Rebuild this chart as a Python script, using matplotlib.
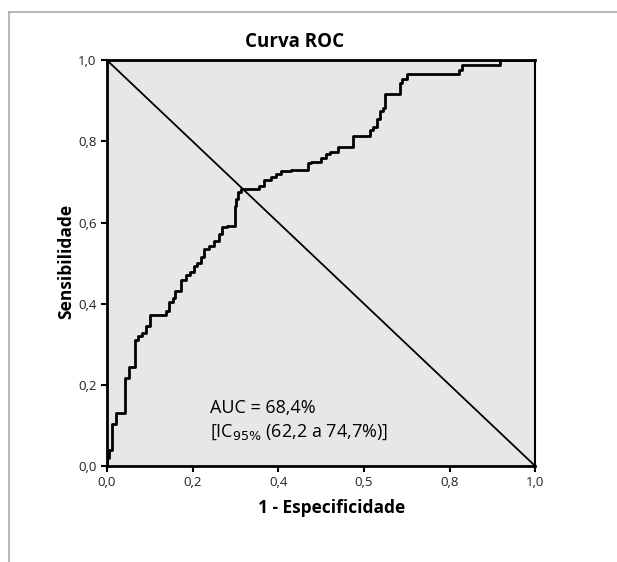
import matplotlib
matplotlib.use("Agg")
import matplotlib.pyplot as plt
from matplotlib.lines import Line2D

plt.rcParams['font.family'] = ['Open Sans', 'DejaVu Sans']

# pontos da curva ROC (1 - especificidade, sensibilidade)
fpr = [0, 0, 0.005, 0.005, 0.011, 0.011, 0.021, 0.021, 0.042, 0.042,
       0.052, 0.052, 0.065, 0.065, 0.073, 0.073, 0.082, 0.082, 0.091, 0.091,
       0.100, 0.100, 0.137, 0.137, 0.145, 0.145, 0.153, 0.153, 0.160, 0.160,
       0.172, 0.172, 0.185, 0.185, 0.195, 0.195, 0.203, 0.203, 0.211, 0.211,
       0.219, 0.219, 0.226, 0.226, 0.238, 0.238, 0.250, 0.250, 0.261, 0.261,
       0.269, 0.269, 0.281, 0.281, 0.298, 0.298, 0.302, 0.302, 0.306, 0.306,
       0.312, 0.312, 0.355, 0.355, 0.367, 0.367, 0.383, 0.383, 0.395, 0.395,
       0.406, 0.406, 0.430, 0.430, 0.469, 0.469, 0.477, 0.477, 0.500, 0.500,
       0.512, 0.512, 0.520, 0.520, 0.540, 0.540, 0.575, 0.575, 0.614, 0.614,
       0.622, 0.622, 0.630, 0.630, 0.638, 0.638, 0.644, 0.644, 0.650, 0.650,
       0.685, 0.685, 0.690, 0.690, 0.700, 0.700, 0.821, 0.821, 0.830, 0.830,
       0.918, 0.918, 1.0]
tpr = [0, 0.020, 0.020, 0.040, 0.040, 0.104, 0.104, 0.130, 0.130, 0.218,
       0.218, 0.245, 0.245, 0.310, 0.310, 0.321, 0.321, 0.329, 0.329, 0.344,
       0.344, 0.371, 0.371, 0.382, 0.382, 0.405, 0.405, 0.413, 0.413, 0.432,
       0.432, 0.459, 0.459, 0.470, 0.470, 0.478, 0.478, 0.493, 0.493, 0.500,
       0.500, 0.516, 0.516, 0.535, 0.535, 0.543, 0.543, 0.554, 0.554, 0.573,
       0.573, 0.589, 0.589, 0.592, 0.592, 0.642, 0.642, 0.657, 0.657, 0.676,
       0.676, 0.682, 0.682, 0.690, 0.690, 0.704, 0.704, 0.712, 0.712, 0.720,
       0.720, 0.727, 0.727, 0.730, 0.730, 0.747, 0.747, 0.750, 0.750, 0.760,
       0.760, 0.770, 0.770, 0.774, 0.774, 0.785, 0.785, 0.813, 0.813, 0.828,
       0.828, 0.836, 0.836, 0.855, 0.855, 0.874, 0.874, 0.882, 0.882, 0.916,
       0.916, 0.943, 0.943, 0.954, 0.954, 0.966, 0.966, 0.977, 0.977, 0.989,
       0.989, 1.0, 1.0]

ref_x = [0, 1]
ref_y = [1, 0]

tick_pos = [0, 0.2, 0.4, 0.6, 0.8, 1.0]
xtick_labels = ['0,0', '0,2', '0,4', '0,5', '0,8', '1,0']
ytick_labels = ['0,0', '0,2', '0,4', '0,6', '0,8', '1,0']

fig = plt.figure(figsize=(6.17, 5.62), dpi=100)
ax = fig.add_axes([0.1734, 0.1708, 0.694, 0.722])
ax.set_facecolor('#e7e7e7')

ax.plot(ref_x, ref_y, color='black', linewidth=1.3)
ax.plot(fpr, tpr, color='black', linewidth=2)

ax.set_xlim(0, 1)
ax.set_ylim(0, 1)
ax.set_xticks(tick_pos)
ax.set_xticklabels(xtick_labels)
ax.set_yticks(tick_pos)
ax.set_yticklabels(ytick_labels)
ax.tick_params(direction='out', length=4.5, width=1.5, labelsize=9.5,
               colors='black', labelcolor='#222222', pad=3)
for s in ax.spines.values():
    s.set_linewidth(2)
    s.set_color('black')
ax.spines['right'].set_linewidth(1.5)

ax.text(0.24, 0.143, 'AUC = 68,4%', fontsize=13, va='center', ha='left')
ax.text(0.24, 0.084, '[IC$_{95\\%}$ (62,2 a 74,7%)]', fontsize=13,
        va='center', ha='left')

fig.text(0.478, 0.925, 'Curva ROC', fontsize=13.5, fontweight='bold',
         ha='center', va='center')
fig.text(0.537, 0.096, '1 - Especificidade', fontsize=12.5, fontweight='bold',
         ha='center', va='center')
fig.text(0.107, 0.534, 'Sensibilidade', fontsize=12.5, fontweight='bold',
         ha='center', va='center', rotation=90)

# moldura cinza externa
fig.add_artist(Line2D([9 / 617, 9 / 617], [0, 1 - 12 / 562],
                      color='#aaaaaa', linewidth=1.2))
fig.add_artist(Line2D([9 / 617, 1], [1 - 12 / 562, 1 - 12 / 562],
                      color='#aaaaaa', linewidth=1.2))

fig.savefig('out.png', dpi=100)
